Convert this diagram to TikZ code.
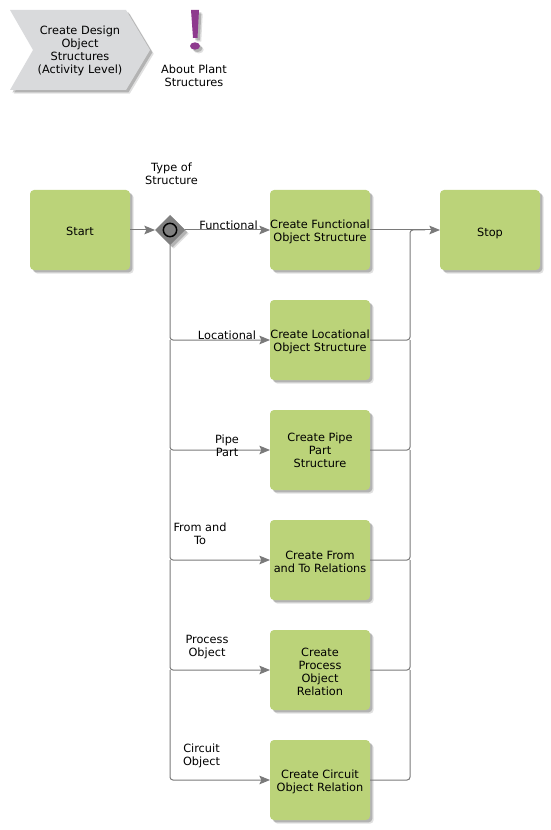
\documentclass[tikz,border=0pt]{standalone}
\usepackage{fontspec}
\setmainfont{DejaVu Sans}
\usetikzlibrary{arrows.meta,shadows,shapes.geometric}
\definecolor{taskgreen}{HTML}{BBD379}
\definecolor{linegray}{HTML}{7A7A7A}
\definecolor{chevgray}{HTML}{D9DADC}
\definecolor{notepurple}{HTML}{8E3A8E}
\newcommand{\topgap}[1]{\rule{0pt}{#1}}
\begin{document}
\begin{tikzpicture}[
		x=0.75pt, y=-0.75pt,
		every node/.style={font=\fontsize{8.5}{9.75}\selectfont, align=center, inner sep=0pt, outer sep=0pt},
		softshadow/.style={
			drop shadow={shadow xshift=2.8pt, shadow yshift=-2.8pt, fill=black, opacity=0.12},
			drop shadow={shadow xshift=1.8pt, shadow yshift=-1.8pt, fill=black, opacity=0.2}},
		task/.style={fill=taskgreen, rounded corners=3pt, minimum width=75pt, minimum height=60pt, softshadow},
		gateway/.style={diamond, fill=gray, aspect=1, minimum size=22.5pt, softshadow},
		gatemark/.style={circle, draw=black, line width=1.1pt, fill=gray, minimum size=10pt},
		wire/.style={draw=linegray, line width=0.75pt, rounded corners=2.2pt},
		link/.style={wire, -{Stealth[length=8pt,width=6.5pt,inset=1.5pt]}}
		]
		\useasboundingbox (0,0) rectangle (550,830);
		
		% Draw Header
		\fill[chevgray, softshadow] (10,10) -- (126,10) -- (150,50) -- (126,90) -- (10,90) -- (33,50) -- cycle;
		\node (title) at (80,51) {Create Design\\Object\\Structures\\(Activity Level)};
		\fill[notepurple, softshadow] (191,10) -- (199,10) -- (197.5,38) -- (193,38) -- cycle;
		\fill[notepurple, softshadow] (195,46) ellipse (5 and 3.7);
		\node (about) at (194,75.5) {About Plant\\Structures};
		
		% Draw Tasks
		\node[task] (start) at (80,230) {\topgap{8pt}Start};
		\node[task] (functional) at (320,230) {\topgap{9pt}Create Functional\\Object Structure};
		\node[task] (locational) at (320,340) {\topgap{9pt}Create Locational\\Object Structure};
		\node[task] (pipe) at (320,450) {Create Pipe\\Part\\Structure};
		\node[task] (fromto) at (320,560) {\topgap{9pt}Create From\\and To Relations};
		\node[task] (process) at (320,670) {\topgap{8.5pt}Create\\Process\\Object\\Relation};
		\node[task] (circuit) at (320,780) {\topgap{10pt}Create Circuit\\Object Relation};
		\node[task] (stop) at (490,230) {\topgap{11pt}Stop};
		
		% Draw Gateway
		\node[gateway] (gate) at (170,230) {};
		\node[gatemark] (mark) at (170,230) {};
		\node (gatelabel) at (171.5,174) {Type of\\Structure};
		\coordinate (merge) at (410,230);
		\coordinate (mergeend) at (425,230);
		
		% Add Arrows for Clarity
		\draw[link] (start.east) -- (gate.west);
		\draw[link] (gate.east) -- (functional.west);
		\draw[link] (functional.east) -- (stop.west);
		\draw[link] (gate.south) |- (locational.west);
		\foreach \x/\y in {locational/pipe, pipe/fromto, fromto/process, process/circuit} {
			\draw[link] (gate.south |- \x.west) |- (\y.west);
		}
		\foreach \x/\y in {circuit/process, process/fromto, fromto/pipe, pipe/locational} {
			\draw[wire] (\x.east) -| (merge |- \y.east);
		}
		\draw[wire] (locational.east) -| (merge) -- (mergeend);
		
		% Add Branch Labels
		\node (lblfunctional) at (228.5,225) {Functional};
		\node (lbllocational) at (227,335) {Locational};
		\node (lblpipe) at (227,445.5) {Pipe\\Part};
		\node (lblfromto) at (200,533.5) {From and\\To};
		\node (lblprocess) at (207,647) {Process\\Object};
		\node (lblcircuit) at (201.5,755.5) {Circuit\\Object};
		
	\end{tikzpicture}
\end{document}
